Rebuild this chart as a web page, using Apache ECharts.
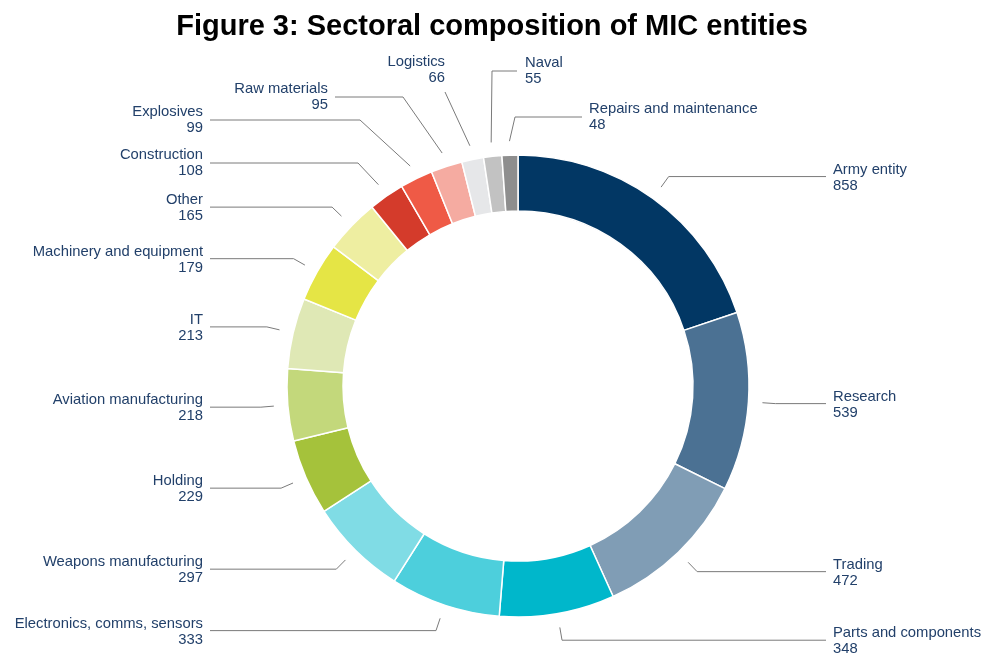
<!DOCTYPE html>
<html>
<head>
<meta charset="utf-8">
<script src="https://cdn.jsdelivr.net/npm/echarts@6/dist/echarts.min.js"></script>
<style>
  html, body { margin: 0; padding: 0; background: #fff; }
  #main { width: 984px; height: 654px; }
</style>
</head>
<body>
<div id="main"></div>
<script>
// sectors, clockwise from the top
var sectors = [
  'Army entity', 'Research', 'Trading', 'Parts and components',
  'Electronics, comms, sensors', 'Weapons manufacturing', 'Holding',
  'Aviation manufacturing', 'IT', 'Machinery and equipment', 'Other',
  'Construction', 'Explosives', 'Raw materials', 'Logistics', 'Naval',
  'Repairs and maintenance'
];
var counts = [858, 539, 472, 348, 333, 297, 229, 218, 213, 179, 165, 108, 99, 95, 66, 55, 48];
var colors = [
  '#023764', '#4b7193', '#809db5', '#00b7cb',
  '#4dcfdc', '#80dce5', '#a5c23b',
  '#c3d87b', '#dfe8b5', '#e5e545', '#eeeea1',
  '#d43b2b', '#ef5a46', '#f5aba1', '#e6e7e9', '#c2c2c2',
  '#8e8e8e'
];

// ring geometry and leader-line layout
var pieCenter = [518, 386];
var ringRadius = [175, 231];
var lineStartR = 245;   // leader lines start a little off the ring
var lineElbowR = 258;
var leftLineEnd = 210, rightLineEnd = 826, textGap = 7;

// hand placed labels for the crowded small slices at the top
var topLabels = {
  'Construction': { elbow: [358, 163] },
  'Explosives': { elbow: [360, 120] },
  'Raw materials': { elbow: [403, 97], end: [335, 97] },
  'Logistics': { end: [445, 92], text: [445, 70], align: 'right' },
  'Naval': { elbow: [492, 71], end: [517, 71], text: [525, 71], align: 'left' },
  'Repairs and maintenance': { elbow: [515, 117], end: [582, 117], text: [589, 117], align: 'left' }
};

var chart = echarts.init(document.getElementById('main'));

function placeLabel(params) {
  var a = params.labelLinePoints[0];
  var dx = a[0] - pieCenter[0], dy = a[1] - pieCenter[1];
  var len = Math.sqrt(dx * dx + dy * dy);
  var ux = dx / len, uy = dy / len;
  var p0 = [pieCenter[0] + ux * lineStartR, pieCenter[1] + uy * lineStartR];
  var p1 = [pieCenter[0] + ux * lineElbowR, pieCenter[1] + uy * lineElbowR];
  var isLeft = ux < 0;
  var name = sectors[params.dataIndex];
  var t = topLabels[name];

  if (t && t.text) {
    var pts = [p0];
    if (t.elbow) pts.push(t.elbow);
    pts.push(t.end);
    return {
      x: t.text[0], y: t.text[1], align: t.align, verticalAlign: 'middle',
      labelLinePoints: pts
    };
  }
  if (t) {
    var end = t.end || [leftLineEnd, t.elbow[1]];
    return {
      x: end[0] - textGap, y: end[1], align: 'right', verticalAlign: 'middle',
      labelLinePoints: [p0, t.elbow, end]
    };
  }
  var ex = isLeft ? leftLineEnd : rightLineEnd;
  return {
    x: isLeft ? ex - textGap : ex + textGap,
    y: p1[1] + 1,
    align: isLeft ? 'right' : 'left',
    verticalAlign: 'middle',
    labelLinePoints: [p0, p1, [ex, p1[1]]]
  };
}

var option = {
  title: {
    text: 'Figure 3: Sectoral composition of MIC entities',
    left: 'center',
    top: 7,
    textStyle: {
      fontFamily: 'Liberation Sans, Arial, sans-serif',
      fontSize: 29,
      fontWeight: 'bold',
      color: '#000'
    }
  },
  series: [
    {
      type: 'pie',
      center: pieCenter,
      radius: ringRadius,
      startAngle: 90,
      clockwise: true,
      avoidLabelOverlap: false,
      itemStyle: {
        borderColor: '#fff',
        borderWidth: 1.5
      },
      label: {
        show: true,
        formatter: '{b}\n{c}',
        fontFamily: 'Liberation Sans, Arial, sans-serif',
        fontSize: 14.8,
        lineHeight: 16,
        color: '#22406a'
      },
      labelLine: {
        show: true,
        length: 20,
        length2: 50,
        lineStyle: { color: '#7a7a7a', width: 1 }
      },
      labelLayout: placeLabel,
      emphasis: { disabled: true },
      data: sectors.map(function (name, i) {
        return { name: name, value: counts[i], itemStyle: { color: colors[i] } };
      })
    }
  ]
};
chart.setOption(option);
</script>
</body>
</html>
